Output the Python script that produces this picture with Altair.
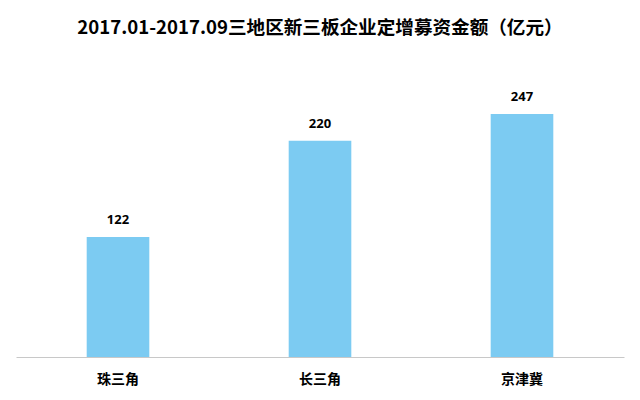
import altair as alt
import pandas as pd

regions = ["珠三角", "长三角", "京津冀"]
amounts = [122, 220, 247]
title_text = "2017.01-2017.09三地区新三板企业定增募资金额（亿元）"

df = pd.DataFrame({"region": regions, "amount": amounts})

x = alt.X(
    "region:N",
    sort=regions,
    title=None,
    scale=alt.Scale(paddingInner=0.69, paddingOuter=0.35),
    axis=alt.Axis(
        labelAngle=0,
        ticks=False,
        labelPadding=15,
        labelFontSize=14,
        labelFont="Noto Sans CJK SC",
        labelFontWeight="bold",
        labelColor="#000000",
        domainColor="#c8c8c8",
        domainWidth=1,
        grid=False,
    ),
)
y = alt.Y(
    "amount:Q",
    title=None,
    scale=alt.Scale(domain=[0, 300], nice=False),
    axis=None,
)

bars = alt.Chart(df).mark_bar(color="#7ccbf2").encode(x=x, y=y)
labels = alt.Chart(df).mark_text(
    dy=-10, fontSize=13, fontWeight="bold", font="Noto Sans", color="#000000", baseline="bottom"
).encode(x=x, y=y, text="amount:Q")

chart = (
    alt.layer(bars, labels)
    .properties(
        width=608,
        height=295,
        background="#ffffff",
        padding={"left": 8, "right": 5, "top": 11, "bottom": 5},
        title=alt.TitleParams(
            title_text,
            fontSize=18.6,
            font="Noto Sans CJK SC",
            fontWeight="bold",
            color="#000000",
            anchor="middle",
            offset=24,
        ),
    )
    .configure_view(strokeWidth=0, stroke=None)
)

chart.save("out.html", embed_options={"renderer": "svg", "actions": False})
